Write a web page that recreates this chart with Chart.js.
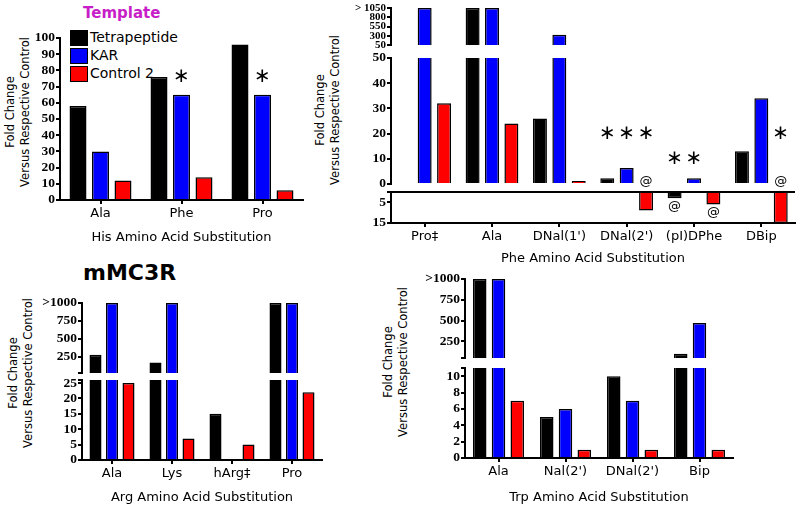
<!DOCTYPE html>
<html>
<head>
<meta charset="utf-8">
<script src="https://cdn.jsdelivr.net/npm/chart.js@4/dist/chart.umd.min.js"></script>
<style>
  body { margin: 0; background: #fff; width: 800px; height: 510px; position: relative; overflow: hidden; font-family: "DejaVu Sans", sans-serif; }
  canvas { position: absolute; }
  .txt { position: absolute; white-space: nowrap; color: #000; }
  .ytitle { position: absolute; white-space: nowrap; text-align: center; font-size: 11.5px; line-height: 15px; transform: translate(-50%, -50%) rotate(-90deg); }
  .box { position: absolute; width: 16px; height: 14px; border: 1px solid #000; }
</style>
</head>
<body>
<div class="txt" style="left:83px;top:4px;font-size:15px;font-weight:bold;color:#c81ec8">Template</div>
<div class="txt" style="left:83px;top:260px;font-size:22px;font-weight:bold">mMC3R</div>
<div id="legend"></div>
<div class="ytitle" style="left:18px;top:112px">Fold Change<br>Versus Respective Control</div>
<div class="ytitle" style="left:328px;top:110px">Fold Change<br>Versus Respective Control</div>
<div class="ytitle" style="left:21px;top:373px">Fold Change<br>Versus Respective Control</div>
<div class="ytitle" style="left:396px;top:362px">Fold Change<br>Versus Respective Control</div>
<script>
'use strict';

// series
const seriesNames = ['Tetrapeptide', 'KAR', 'Control 2'];
const seriesColors = ['#000000', '#0000ff', '#ff0000'];

// His panel
const hisLabels = ['Ala', 'Phe', 'Pro'];
const hisTetra = [58, 76, 96];
const hisKar = [30, 65, 65];
const hisCtrl = [12, 14, 6];
const hisTicks = [0, 10, 20, 30, 40, 50, 60, 70, 80, 90, 100];
const hisStars = [[1, 1, 76], [1, 2, 76]];

// Phe panel (negative = fold change in the other direction)
const pheLabels = ['Pro‡', 'Ala', "DNal(1')", "DNal(2')", '(pI)DPhe', 'DBip'];
const pheTetra = [null, 1050, 26, 2.3, -3, 13];
const pheKar = [1050, 1050, 330, 6.3, 2.3, 34];
const pheCtrl = [32, 24, 1.2, -9, -6, -15];
const pheTopTicks = [50, 300, 550, 800, 1050];
const pheMidTicks = [0, 10, 20, 30, 40, 50];
const pheNegTicks = [-15, -5, 0];
const pheStars = [[0, 3, 20], [1, 3, 20], [2, 3, 20], [2, 5, 20], [0, 4, 10], [1, 4, 10]];
const pheAtMid = [[2, 3, 1], [2, 5, 1]];
const pheAtNeg = [[0, 4, -7], [2, 4, -10]];

// Arg panel
const argLabels = ['Ala', 'Lys', 'hArg‡', 'Pro'];
const argTetra = [280, 170, 15, 1000];
const argKar = [1000, 1000, 0, 1000];
const argCtrl = [25, 7, 5, 22];
const argTopTicks = [25, 250, 500, 750, 1000];
const argLowTicks = [0, 5, 10, 15, 20, 25, 26];

// Trp panel
const trpLabels = ['Ala', "Nal(2')", "DNal(2')", 'Bip'];
const trpTetra = [1000, 5, 10, 100];
const trpKar = [1000, 6, 7, 470];
const trpCtrl = [7, 1, 1, 1];
const trpTopTicks = [50, 250, 500, 750, 1000];
const trpLowTicks = [0, 2, 4, 6, 8, 10, 11];

// legend (html, sits over the His chart)
const legend = document.getElementById('legend');
seriesNames.forEach(function (name, i) {
  const b = document.createElement('div');
  b.className = 'box';
  b.style.left = '70px'; b.style.top = (30 + i * 18) + 'px';
  b.style.background = seriesColors[i];
  legend.appendChild(b);
  const t = document.createElement('div');
  t.className = 'txt';
  t.style.left = '90px'; t.style.top = (29 + i * 18) + 'px';
  t.style.fontSize = '14px';
  t.textContent = name;
  legend.appendChild(t);
});

function makeSets(values) {
  return values.map(function (v, i) {
    return { label: seriesNames[i], data: v, backgroundColor: seriesColors[i],
             borderColor: '#000', borderWidth: 1.5, clip: 0 };
  });
}

function marksPlugin(stars, ats) {
  return {
    id: 'marks',
    afterDatasetsDraw: function (chart) {
      const ctx = chart.ctx;
      const draw = function (m, txt, font) {
        const el = chart.getDatasetMeta(m[0]).data[m[1]];
        const y = chart.scales.y.getPixelForValue(m[2]);
        ctx.save();
        ctx.font = font;
        ctx.fillStyle = '#000';
        ctx.textAlign = 'center';
        ctx.textBaseline = 'middle';
        ctx.fillText(txt, el.x, y);
        ctx.restore();
      };
      (stars || []).forEach(function (m) { draw(m, '∗', '20px "DejaVu Sans"'); });
      (ats || []).forEach(function (m) { draw(m, '@', '13px "DejaVu Sans"'); });
    }
  };
}

// one piece of a (possibly broken) axis
function segment(area, labels, values, y, x, bar, stars, ats) {
  const yw = 60, padT = 10, padR = 8;
  const padB = x ? 0 : 10;
  const xh = x ? x.h : 0;
  const cv = document.createElement('canvas');
  cv.width = yw + area.w + padR;
  cv.height = padT + area.h + xh + padB;
  cv.style.left = (area.l - yw) + 'px';
  cv.style.top = (area.t - padT) + 'px';
  document.body.appendChild(cv);

  const xScale = x ? {
    offset: true,
    afterFit: function (s) { s.height = xh; },
    border: { display: true, color: '#000', width: 2 },
    grid: { offset: false, drawOnChartArea: false, color: '#000', tickLength: 4, lineWidth: 2 },
    ticks: { color: '#000', padding: 2, autoSkip: false, maxRotation: 0, font: { family: 'DejaVu Sans', size: 13 } },
    title: { display: true, text: x.title, color: '#000', padding: { top: 0, bottom: 0 }, font: { family: 'DejaVu Sans', size: 13 } }
  } : { display: false, offset: true };

  new Chart(cv, {
    type: 'bar',
    data: { labels: labels, datasets: makeSets(values) },
    options: {
      responsive: false,
      animation: false,
      devicePixelRatio: 1,
      categoryPercentage: bar[0],
      barPercentage: bar[1],
      layout: { padding: { top: padT, bottom: padB, left: 0, right: padR } },
      plugins: { legend: { display: false }, tooltip: { enabled: false } },
      scales: {
        x: xScale,
        y: {
          min: y.ticks[0], max: y.ticks[y.ticks.length - 1],
          afterBuildTicks: function (s) { s.ticks = y.ticks.map(function (v) { return { value: v }; }); },
          afterFit: function (s) { s.width = yw; },
          border: { display: true, color: '#000', width: 2 },
          grid: {
            drawOnChartArea: !!y.zeroLine,
            color: function (c) { return (y.zeroLine && c.tick && c.tick.value === 0) ? '#000' : 'rgba(0,0,0,0)'; },
            tickColor: '#000', tickLength: 4, lineWidth: 2
          },
          ticks: {
            autoSkip: false, padding: 1, color: '#000',
            font: { family: 'Liberation Serif', weight: 'bold', size: y.fs || 13.5 },
            callback: function (v) { return y.fmt ? y.fmt(v) : v; }
          }
        }
      }
    },
    plugins: [marksPlugin(stars, ats)]
  });
}

// His
segment({ l: 60, t: 38, w: 243, h: 162 }, hisLabels, [hisTetra, hisKar, hisCtrl],
  { ticks: hisTicks }, { h: 45, title: 'His Amino Acid Substitution' }, [0.833, 0.755], hisStars);

// Phe (three pieces)
segment({ l: 391, t: 8, w: 404, h: 37 }, pheLabels, [pheTetra, pheKar, pheCtrl],
  { ticks: pheTopTicks, fs: 11, fmt: function (v) { return v === 1050 ? '> 1050' : v; } }, null, [0.864, 0.72]);
segment({ l: 391, t: 58, w: 404, h: 126 }, pheLabels, [pheTetra, pheKar, pheCtrl],
  { ticks: pheMidTicks }, null, [0.864, 0.72], pheStars, pheAtMid);
segment({ l: 391, t: 192, w: 404, h: 31 }, pheLabels, [pheTetra, pheKar, pheCtrl],
  { ticks: pheNegTicks, zeroLine: true, fmt: function (v) { return v === 0 ? '' : Math.abs(v); } },
  { h: 43, title: 'Phe Amino Acid Substitution' }, [0.864, 0.72], null, pheAtNeg);

// Arg
segment({ l: 82, t: 303, w: 240, h: 70 }, argLabels, [argTetra, argKar, argCtrl],
  { ticks: argTopTicks, fmt: function (v) { return v === 1000 ? '>1000' : (v === 25 ? '' : v); } }, null, [0.825, 0.73]);
segment({ l: 82, t: 380, w: 240, h: 80 }, argLabels, [argTetra, argKar, argCtrl],
  { ticks: argLowTicks, fmt: function (v) { return v === 26 ? '' : v; } },
  { h: 45, title: 'Arg Amino Acid Substitution' }, [0.825, 0.73]);

// Trp
segment({ l: 465, t: 279, w: 268, h: 79 }, trpLabels, [trpTetra, trpKar, trpCtrl],
  { ticks: trpTopTicks, fmt: function (v) { return v === 1000 ? '>1000' : (v === 50 ? '' : v); } }, null, [0.84, 0.72]);
segment({ l: 465, t: 368, w: 268, h: 90 }, trpLabels, [trpTetra, trpKar, trpCtrl],
  { ticks: trpLowTicks, fmt: function (v) { return v === 11 ? '' : v; } },
  { h: 47, title: 'Trp Amino Acid Substitution' }, [0.84, 0.72]);
</script>
</body>
</html>
